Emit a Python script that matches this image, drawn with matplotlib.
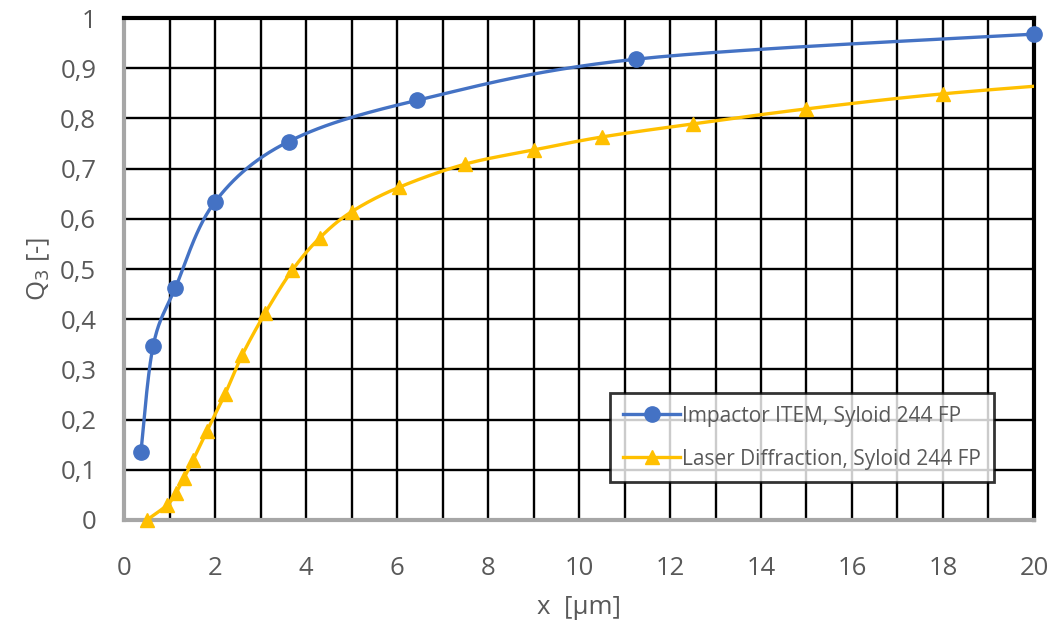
import numpy as np
import matplotlib.pyplot as plt
from matplotlib.ticker import FuncFormatter, MultipleLocator

x_impactor = [0.37, 0.64, 1.13, 2.0, 3.62, 6.44, 11.25, 20.0]
q3_impactor = [0.135, 0.347, 0.463, 0.634, 0.754, 0.836, 0.918, 0.968]

x_laser = [0.5, 0.95, 1.14, 1.32, 1.52, 1.82, 2.22, 2.6, 3.1, 3.7, 4.3, 5.0,
           6.05, 7.5, 9.0, 10.5, 12.5, 15.0, 18.0, 22.0]
q3_laser = [0.0, 0.03, 0.054, 0.084, 0.12, 0.177, 0.251, 0.329, 0.412, 0.498,
            0.562, 0.614, 0.663, 0.709, 0.737, 0.763, 0.789, 0.819, 0.849, 0.878]

label_impactor = 'Impactor ITEM, Syloid 244 FP'
label_laser = 'Laser Diffraction, Syloid 244 FP'

blue = '#4472C4'
gold = '#FFC000'
grey = '#595959'

plt.rcParams['font.family'] = ['Open Sans', 'DejaVu Sans']


def smooth(xs, ys, sx=20.0, sy=1.0, n=30):
    # Glättung wie in Excel (Bezier mit Catmull-Rom-Tangenten)
    p = np.column_stack([np.asarray(xs) / sx, np.asarray(ys) / sy * 0.55])
    out = [p[0]]
    for i in range(len(p) - 1):
        p0 = p[i - 1] if i > 0 else p[i]
        p1, p2 = p[i], p[i + 1]
        p3 = p[i + 2] if i + 2 < len(p) else p[i + 1]
        c1 = p1 + (p2 - p0) / 6.0
        c2 = p2 - (p3 - p1) / 6.0
        t = np.linspace(0, 1, n)[1:, None]
        seg = ((1 - t) ** 3) * p1 + 3 * ((1 - t) ** 2) * t * c1 \
            + 3 * (1 - t) * t ** 2 * c2 + t ** 3 * p2
        out.extend(seg)
    out = np.array(out)
    return out[:, 0] * sx, out[:, 1] / 0.55 * sy


fig = plt.figure(figsize=(10.63, 6.28), dpi=100)
ax = fig.add_axes([0.1167, 0.172, 0.856, 0.7993])

sx, sy = smooth(x_impactor, q3_impactor)
ax.plot(sx, sy, color=blue, lw=2.4, zorder=3)
ax.plot(x_impactor, q3_impactor, 'o', color=blue, ms=11, zorder=4, clip_on=False)

lx, ly = smooth(x_laser, q3_laser)
ax.plot(lx, ly, color=gold, lw=2.4, zorder=3)
inside = [i for i, xv in enumerate(x_laser) if xv <= 20]
ax.plot([x_laser[i] for i in inside], [q3_laser[i] for i in inside], '^',
        color=gold, ms=10, zorder=4, clip_on=False)

# Legenden-Einträge
ax.plot([], [], '-o', color=blue, lw=2.4, ms=11, label=label_impactor)
ax.plot([], [], '-^', color=gold, lw=2.4, ms=10, label=label_laser)

ax.set_xlim(0, 20)
ax.set_ylim(0, 1)
ax.xaxis.set_major_locator(MultipleLocator(2))
ax.xaxis.set_minor_locator(MultipleLocator(1))
ax.yaxis.set_major_locator(MultipleLocator(0.1))
ax.yaxis.set_major_formatter(FuncFormatter(
    lambda v, _: '0' if abs(v) < 1e-9 else ('1' if abs(v - 1) < 1e-9 else f'{v:.1f}'.replace('.', ','))))
ax.xaxis.set_major_formatter(FuncFormatter(lambda v, _: f'{v:.0f}'))

ax.grid(True, which='both', color='black', lw=1.7)
ax.set_axisbelow(True)
ax.tick_params(which='both', length=0, labelcolor=grey)
ax.tick_params(axis='y', labelsize=18.5, pad=20)
ax.tick_params(axis='x', labelsize=18.5, pad=26)

for side in ['top', 'right']:
    ax.spines[side].set_color('black')
    ax.spines[side].set_linewidth(3)
for side in ['left', 'bottom']:
    ax.spines[side].set_color('#A6A6A6')
    ax.spines[side].set_linewidth(3)

ax.set_xlabel('x  [µm]', fontsize=18.5, color=grey, labelpad=10)
ax.set_ylabel('Q$_3$ [-]', fontsize=18.5, color=grey, labelpad=6)

leg = ax.legend(loc='lower right', bbox_to_anchor=(0.967, 0.054), fontsize=15,
                frameon=True, fancybox=False, edgecolor='black', handlelength=2.7,
                labelspacing=1.05, borderpad=0.62, handletextpad=0.1, labelcolor=grey)
leg.get_frame().set_linewidth(2)
leg.set_zorder(5)

fig.savefig('out.png', dpi=100, facecolor='white')
